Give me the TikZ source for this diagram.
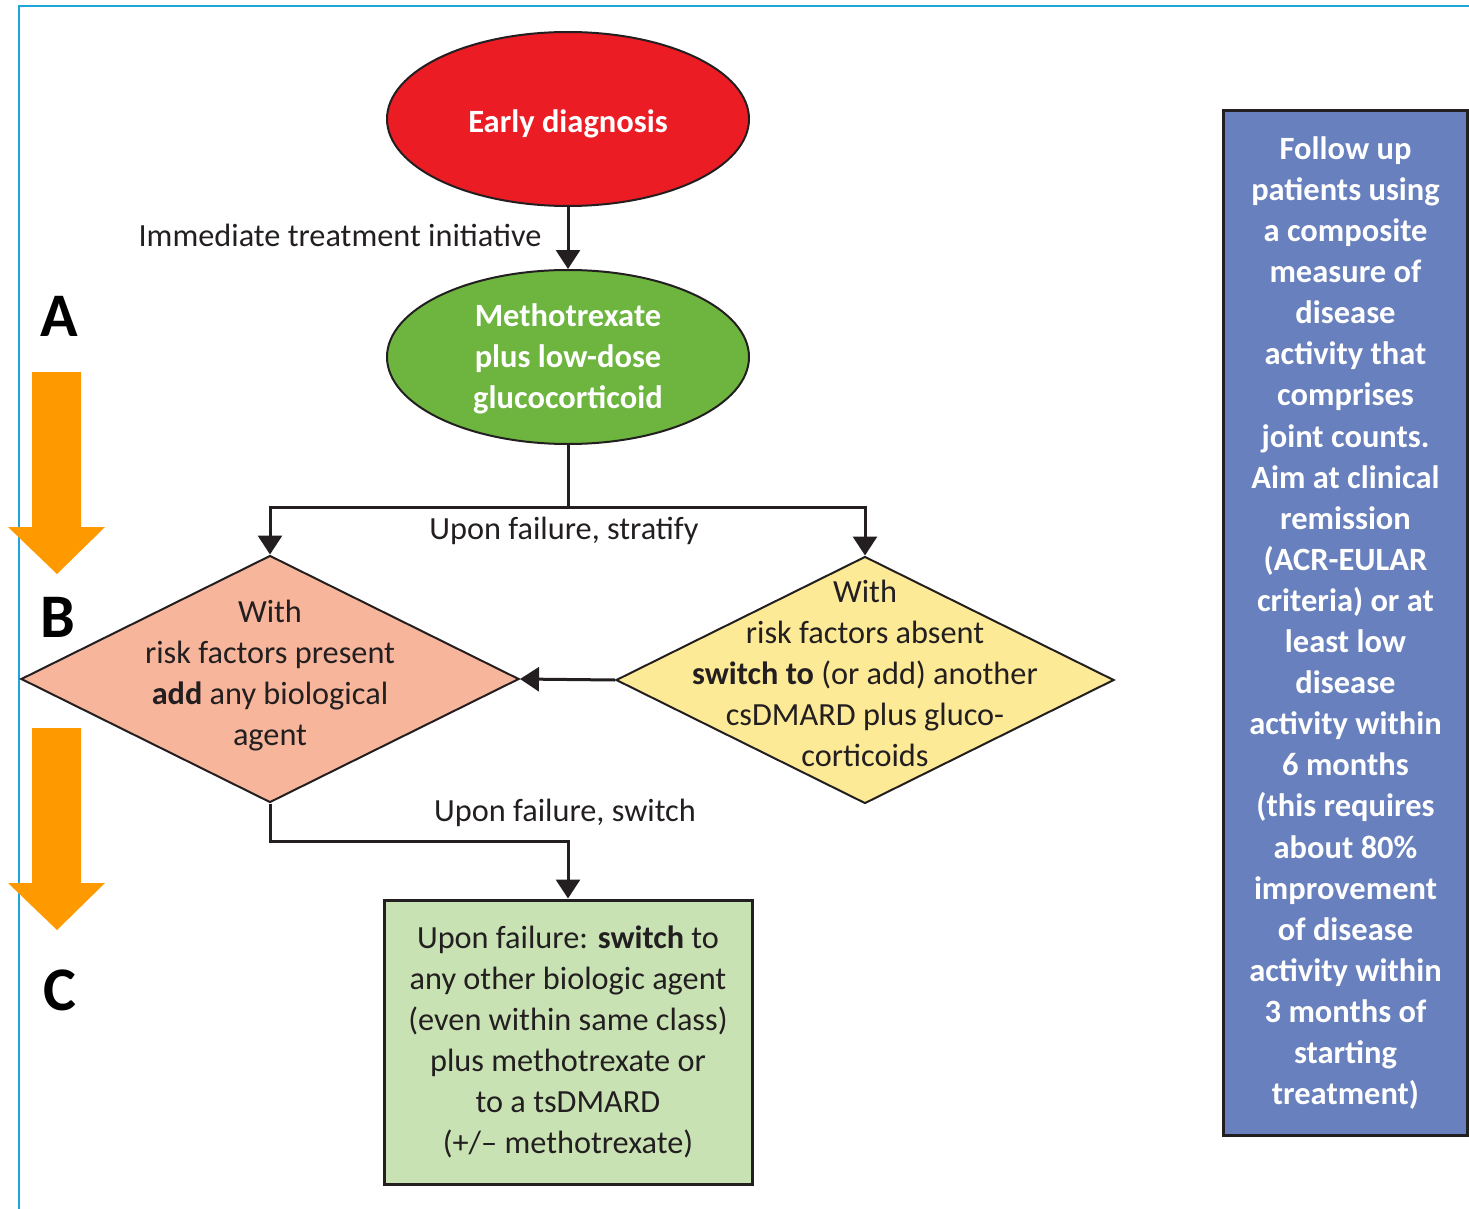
\documentclass[tikz,border=0pt]{standalone}
\usepackage{fontspec}
\setmainfont{Carlito}
\usetikzlibrary{shapes.geometric,arrows.meta}

\definecolor{ink}{HTML}{231F20}
\definecolor{framecol}{HTML}{1EA5DC}
\definecolor{diagred}{HTML}{EC1C24}
\definecolor{mtxgreen}{HTML}{6DB53F}
\definecolor{salmon}{HTML}{F7B59B}
\definecolor{paleyellow}{HTML}{FDEA96}
\definecolor{palegreen}{HTML}{C9E2B4}
\definecolor{followblue}{HTML}{6880BD}
\definecolor{phaseorange}{HTML}{FF9900}

\tikzset{
  body/.style={font=\fontsize{32.3}{41}\selectfont, text=ink},
  whitetext/.style={text=white, align=center,
    font=\fontsize{32.5}{41}\selectfont\bfseries},
  oval/.style={ellipse, draw=ink, line width=2pt, minimum width=362pt,
    minimum height=174pt, inner sep=0pt, whitetext},
  decision/.style={diamond, draw=ink, line width=2pt, minimum width=498pt,
    minimum height=247pt, inner sep=0pt},
  boxed/.style={rectangle, draw=ink, line width=3pt, inner sep=0pt, align=center},
  arr/.style={draw=ink, line width=3pt, -{Triangle[width=24pt,length=19pt]}},
  link/.style={draw=ink, line width=3pt},
  phase/.style={fill=phaseorange, draw=none},
  phaselabel/.style={font=\fontsize{62}{62}\selectfont\bfseries, text=black}
}

\begin{document}
\begin{tikzpicture}[x=1pt, y=-1pt]
\useasboundingbox (0,0) rectangle (1469,1209);

% outer frame, open towards right and bottom
\draw[framecol, line width=2.5pt] (19,1215) -- (19,6) -- (1475,6);

% phase arrows and letters
\fill[phase] (32,372) -- (81,372) -- (81,527) -- (105,527) -- (57,574) -- (8,527) -- (32,527) -- cycle;
\fill[phase] (32,728) -- (81,728) -- (81,883) -- (105,883) -- (57,930) -- (8,883) -- (32,883) -- cycle;
\node[phaselabel] (labA) at (59,316) {A};
\node[phaselabel] (labB) at (58,617) {B};
\node[phaselabel] (labC) at (60,990) {C};

% main pathway
\node[oval, fill=diagred] (diag) at (568,119) {};
\node[whitetext] (diagtext) at (568,124) {Early diagnosis};
\node[oval, fill=mtxgreen] (mtx) at (568,357) {};
\node[whitetext] (mtxtext) at (568,359) {Methotrexate\\plus low-dose\\glucocorticoid};

\node[decision, fill=salmon] (riskp) at (270,679) {};
\node[body, align=center] (riskptext) at (270,676)
  {With\\risk factors present\\\textbf{add} any biological\\agent};

\node[decision, fill=paleyellow] (riska) at (865,680) {};
\node[body, align=center] (riskatext) at (865,673)
  {With\\risk factors absent\\\textbf{switch to} (or add) another\\csDMARD plus gluco-\\corticoids};

\node[boxed, fill=palegreen, minimum width=368pt, minimum height=284pt, body]
  (bio) at (568,1042)
  {Upon failure: \textbf{switch} to\\any other biologic agent\\(even within same class)\\plus methotrexate or\\to a tsDMARD\\(+/– methotrexate)};

\node[boxed, fill=followblue, minimum width=244pt, minimum height=1025pt,
  text=white, font=\fontsize{32.5}{41.1}\selectfont\bfseries] (follow) at (1345.5,623)
  {Follow up\\patients using\\a composite\\measure of\\disease\\activity that\\comprises\\joint counts.\\Aim at clinical\\remission\\(ACR-EULAR\\criteria) or at\\least low\\disease\\activity within\\6 months\\(this requires\\about 80\%\\improvement\\of disease\\activity within\\3 months of\\starting\\treatment)};

% connectors
\draw[arr] (diag.south) -- (mtx.north);
\node[body, anchor=east] (lbl1) at (545,235) {Immediate treatment initiative};

\coordinate (split) at (568,507);
\draw[link] (mtx.south) -- (split);
\draw[arr] (split) -| (riskp.north);
\draw[arr] (split) -| (riska.north);
\node[body] (lbl2) at (564,531) {Upon failure, stratify};

\draw[arr] (riska.west) -- (riskp.east);

\draw[arr] (riskp.south) -- ++(0,38) -| (bio.north);
\node[body] (lbl3) at (565,813) {Upon failure, switch};
\end{tikzpicture}
\end{document}
